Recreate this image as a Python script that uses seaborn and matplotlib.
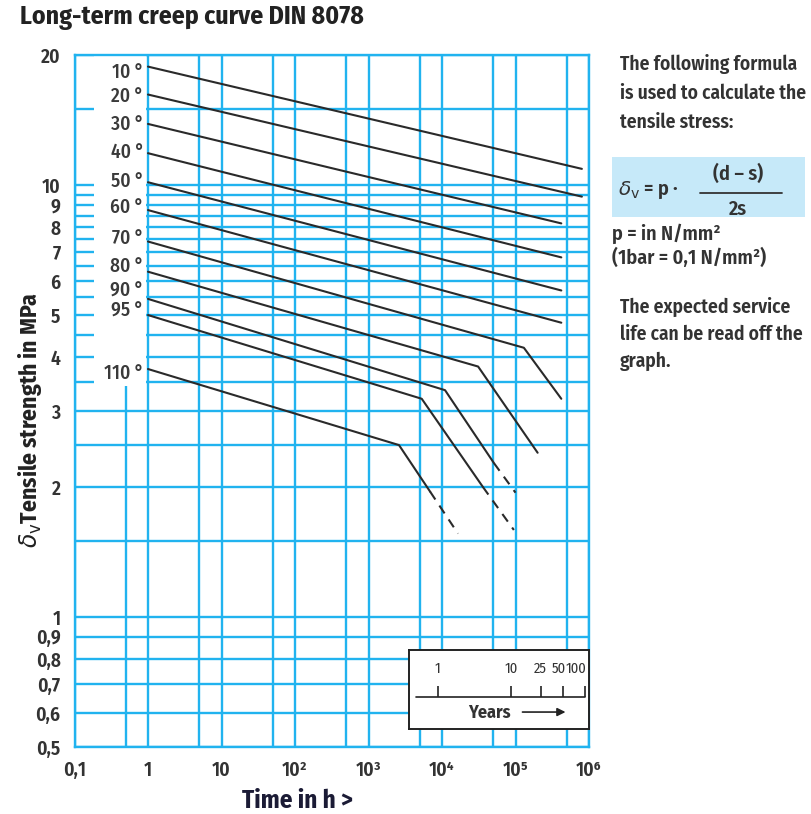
import numpy as np
import matplotlib.pyplot as plt
import seaborn as sns
from matplotlib import font_manager
from matplotlib.patches import Rectangle
from matplotlib.lines import Line2D
from matplotlib.ticker import NullFormatter

# isotherm labels
temps = ['10 °', '20 °', '30 °', '40 °', '50 °', '60 °', '70 °', '80 °', '90 °', '95 °', '110 °']

# solid part of each isotherm: time in h / tensile stress in MPa
solid_hours = [
    [1, 8e5],
    [1, 8e5],
    [1, 4.2e5],
    [1, 4.2e5],
    [1, 4.2e5],
    [1, 4.2e5],
    [1, 1.3e5, 4.2e5],
    [1, 3.1e4, 2.0e5],
    [1, 1.1e4, 5.1e4],
    [1, 5.3e3, 3.6e4],
    [1, 2.6e3, 6.9e3],
]
solid_mpa = [
    [18.8, 10.9],
    [16.2, 9.4],
    [13.85, 8.15],
    [11.85, 6.8],
    [10.15, 5.7],
    [8.75, 4.8],
    [7.4, 4.2, 3.2],
    [6.3, 3.8, 2.4],
    [5.45, 3.35, 2.27],
    [5.0, 3.2, 2.0],
    [3.75, 2.5, 1.95],
]

# dashed (extrapolated) tails of 90, 95 and 110 degrees
dashed_hours = [[5.1e4, 1.0e5], [3.6e4, 9.5e4], [6.9e3, 1.65e4]]
dashed_mpa = [[2.27, 1.94], [2.0, 1.59], [1.95, 1.56]]

# axis ticks
x_major = [0.1, 1, 10, 1e2, 1e3, 1e4, 1e5, 1e6]
x_labels = ['0,1', '1', '10', '10²', '10³', '10⁴', '10⁵', '10⁶']
x_minor = [0.5, 5, 50, 5e2, 5e3, 5e4, 5e5]
y_major = [0.5, 0.6, 0.7, 0.8, 0.9, 1, 2, 3, 4, 5, 6, 7, 8, 9, 10, 20]
y_labels = ['0,5', '0,6', '0,7', '0,8', '0,9', '1', '2', '3', '4', '5', '6', '7', '8', '9', '10', '20']
y_minor = [1.5, 2.5, 3.5, 4.5, 5.5, 6.5, 7.5, 8.5, 9.5, 15]

# service life scale
years = [1, 10, 25, 50, 100]
year_labels = ['1', '10', '25', '50', '100']
hours_per_year = 8760

sns.set_theme(style='white')

# pick a condensed face if there is one, else plain Roboto a bit smaller
have = {f.name for f in font_manager.fontManager.ttflist}
narrow = next((f for f in ['Fira Sans Condensed', 'PT Sans Narrow', 'Liberation Sans Narrow']
               if f in have), None)
body = narrow or 'Roboto'
k = 1.0 if narrow else 0.8
plt.rcParams['font.family'] = [body, 'DejaVu Sans']
plt.rcParams['mathtext.fontset'] = 'dejavusans'

blue = '#21b3ef'
ink = '#2a2a2a'
txt = '#333333'

fig = plt.figure(figsize=(8.11, 8.14), dpi=100)
ax = fig.add_axes([74.5 / 811, 1 - 747 / 814, 514.5 / 811, 692 / 814])
ax.set_xscale('log')
ax.set_yscale('log')
ax.set_xlim(0.1, 1e6)
ax.set_ylim(0.5, 20)

ax.set_xticks(x_major)
ax.set_xticklabels(x_labels)
ax.set_xticks(x_minor, minor=True)
ax.set_yticks(y_major)
ax.set_yticklabels(y_labels)
ax.set_yticks(y_minor, minor=True)
ax.xaxis.set_minor_formatter(NullFormatter())
ax.yaxis.set_minor_formatter(NullFormatter())
ax.tick_params(which='both', length=0, labelsize=14 * k, labelcolor=txt)
ax.tick_params(axis='x', pad=10)
ax.tick_params(axis='y', pad=10)
for lab in ax.get_xticklabels() + ax.get_yticklabels():
    lab.set_fontweight('semibold')

ax.set_axisbelow(True)
ax.grid(True, which='both', color=blue, lw=1.7)
for sp in ax.spines.values():
    sp.set_color(blue)
    sp.set_linewidth(1.7)

# white column behind the temperature labels
ax.add_patch(Rectangle((0.184, 3.43), 0.95 - 0.184, 20 - 3.43,
                       facecolor='white', edgecolor='none', zorder=1))

# label nudges in pixels (up is positive), as in the original sheet
nudge = [-6, -2, 0, 1, 1, 3, 3, 5, 8, 4, -4]
for t, hx, my, dy in zip(temps, solid_hours, solid_mpa, nudge):
    sns.lineplot(x=hx, y=my, ax=ax, color=ink, lw=1.5, sort=False,
                 legend=False, zorder=2)
    ax.annotate(t, xy=(0.88, my[0]), xytext=(0, dy), textcoords='offset pixels',
                ha='right', va='center', fontsize=14 * k, fontweight='medium',
                color='#3a3a3a', zorder=3)

for hx, my in zip(dashed_hours, dashed_mpa):
    sns.lineplot(x=hx, y=my, ax=ax, color=ink, lw=1.5, sort=False,
                 legend=False, zorder=2, linestyle=(0, (4.5, 3.5)))

ax.set_xlabel('')
ax.set_ylabel('')

# years inset
ins = ax.inset_axes([0.650, 0.026, 0.350, 0.114])
x_lo, x_hi = ax.get_xlim()
lx0 = np.log10(x_lo) + 0.650 * (np.log10(x_hi) - np.log10(x_lo))
ins.set_xscale('log')
ins.set_xlim(10 ** lx0, x_hi)
ins.set_ylim(0, 1)
ins.set_facecolor('white')
ins.set_xticks([])
ins.set_yticks([])
ins.minorticks_off()
for sp in ins.spines.values():
    sp.set_color('#222222')
    sp.set_linewidth(1.4)
ins.axhline(0.405, xmin=0.04, xmax=0.977, color='#222222', lw=1.2)
yh = [y * hours_per_year for y in years]
ins.vlines(yh, 0.405, 0.55, color='#222222', lw=1.2)
year_ha = ['center', 'center', 'center', 'right', 'right']
year_dx = [0, 0, 0, 3, 2]
for h, lab, ha, dx in zip(yh, year_labels, year_ha, year_dx):
    ins.annotate(lab, xy=(h, 0.76), xytext=(dx, 0), textcoords='offset pixels',
                 ha=ha, va='center', fontsize=10.5 * k, color=txt)
ins.text(0.444, 0.2, 'Years', transform=ins.transAxes, ha='center', va='center',
         fontsize=13 * k, fontweight='bold', color=txt)
ins.annotate('', xy=(0.885, 0.215), xytext=(0.615, 0.215), xycoords='axes fraction',
             arrowprops=dict(arrowstyle='-|>', color='#222222', lw=1.2))

# titles and axis labels
fig.text(20 / 811, 1 - 18 / 814, 'Long-term creep curve DIN 8078', ha='left', va='center',
         fontsize=18.5 * k, fontweight='bold', color='#222222')
fig.text(30 / 811, 1 - 420 / 814, r'$\delta_{\rm v}$Tensile strength in MPa', rotation=90,
         ha='center', va='center', fontsize=17 * k, fontweight='bold', color='#222222')
fig.text(297 / 811, 1 - 801 / 814, 'Time in h >', ha='center', va='center',
         fontsize=18 * k, fontweight='bold', color='#1b1b35')

# explanation on the right
side = [('The following formula', 64), ('is used to calculate the', 93),
        ('tensile stress:', 122), ('The expected service', 307),
        ('life can be read off the', 334), ('graph.', 361)]
for s, py in side:
    fig.text(620 / 811, 1 - py / 814, s, ha='left', va='center', fontsize=14 * k,
             fontweight='semibold', color=txt)

fig.patches.append(Rectangle((612 / 811, 1 - 217 / 814), 193 / 811, 60 / 814,
                             transform=fig.transFigure, facecolor='#c6e9f9',
                             edgecolor='none', zorder=0))
fig.text(618 / 811, 1 - 190 / 814, r'$\delta_{\rm v}$ = p ·', ha='left', va='center',
         fontsize=14.5 * k, fontweight='semibold', color=txt)
fig.text(738 / 811, 1 - 174 / 814, '(d – s)', ha='center', va='center', fontsize=14.5 * k,
         fontweight='semibold', color=txt)
fig.lines.append(Line2D([700 / 811, 782 / 811], [1 - 193 / 814, 1 - 193 / 814],
                        transform=fig.transFigure, color=txt, lw=1.3))
fig.text(738 / 811, 1 - 209 / 814, '2s', ha='center', va='center', fontsize=14.5 * k,
         fontweight='semibold', color=txt)
fig.text(612 / 811, 1 - 234 / 814, 'p = in N/mm²', ha='left', va='center', fontsize=14.5 * k,
         fontweight='semibold', color=txt)
fig.text(612 / 811, 1 - 258 / 814, '(1bar = 0,1 N/mm²)', ha='left', va='center',
         fontsize=14.5 * k, fontweight='semibold', color=txt)

fig.savefig('out.png', dpi=100)
